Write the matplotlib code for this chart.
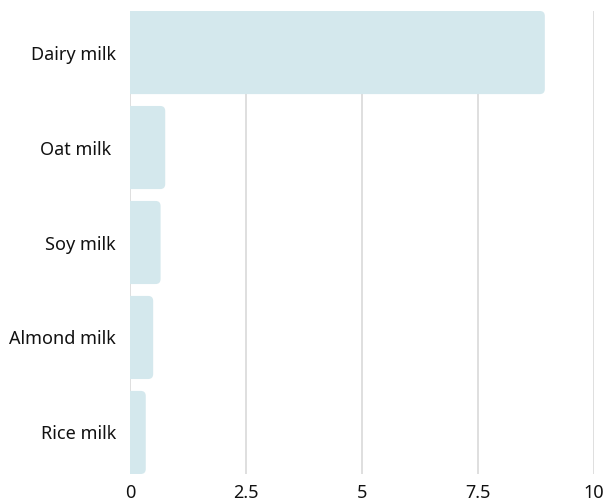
import matplotlib
matplotlib.use("Agg")
import matplotlib.pyplot as plt
from matplotlib.path import Path
from matplotlib.patches import PathPatch

categories = ["Dairy milk", "Oat milk ", "Soy milk", "Almond milk", "Rice milk"]
values = [8.95, 0.76, 0.66, 0.5, 0.34]
xticks = [0, 2.5, 5, 7.5, 10]
xtick_labels = ["0", "2.5", "5", "7.5", "10"]

plt.rcParams['font.family'] = ['Noto Sans', 'DejaVu Sans']

fig = plt.figure(figsize=(6.05, 5.04), dpi=100)
ax = fig.add_axes([130/605, 1-474/504, 463.5/605, 463/504])

bar_h = 0.875
ypos = list(range(len(categories)))
bars = ax.barh(ypos, values, height=bar_h, color="none", edgecolor="none")
ax.set_xlim(0, 10)
ax.set_ylim(len(categories) - 1 + bar_h/2, -bar_h/2)
ax.set_xticks(xticks)
ax.set_xticklabels(xtick_labels)
ax.set_yticks(ypos)
ax.set_yticklabels(categories)
ax.tick_params(axis='both', length=0, labelsize=13, colors="#111111")
ax.tick_params(axis='x', pad=7.5)
ax.tick_params(axis='y', pad=10)
for s in ax.spines.values():
    s.set_visible(False)
ax.grid(axis='x', color="#dcdcdc", linewidth=1.3, zorder=0)
ax.grid(axis='y', visible=False)
ax.set_axisbelow(True)

fig.canvas.draw()
r = 5.0
for rect in bars:
    bb = rect.get_window_extent()
    x0, x1, y0, y1 = bb.x0, bb.x1, bb.y0, bb.y1
    rr = min(r, (x1 - x0) / 2)
    verts = [
        (x0, y0), (x1 - rr, y0), (x1, y0), (x1, y0 + rr),
        (x1, y1 - rr), (x1, y1), (x1 - rr, y1), (x0, y1), (x0, y0)
    ]
    codes = [Path.MOVETO, Path.LINETO, Path.CURVE3, Path.CURVE3,
             Path.LINETO, Path.CURVE3, Path.CURVE3, Path.LINETO, Path.CLOSEPOLY]
    p = PathPatch(Path(verts, codes), facecolor="#d4e8ed", edgecolor="none",
                  transform=None, zorder=2)
    fig.add_artist(p)

fig.savefig("out.png", dpi=100)
